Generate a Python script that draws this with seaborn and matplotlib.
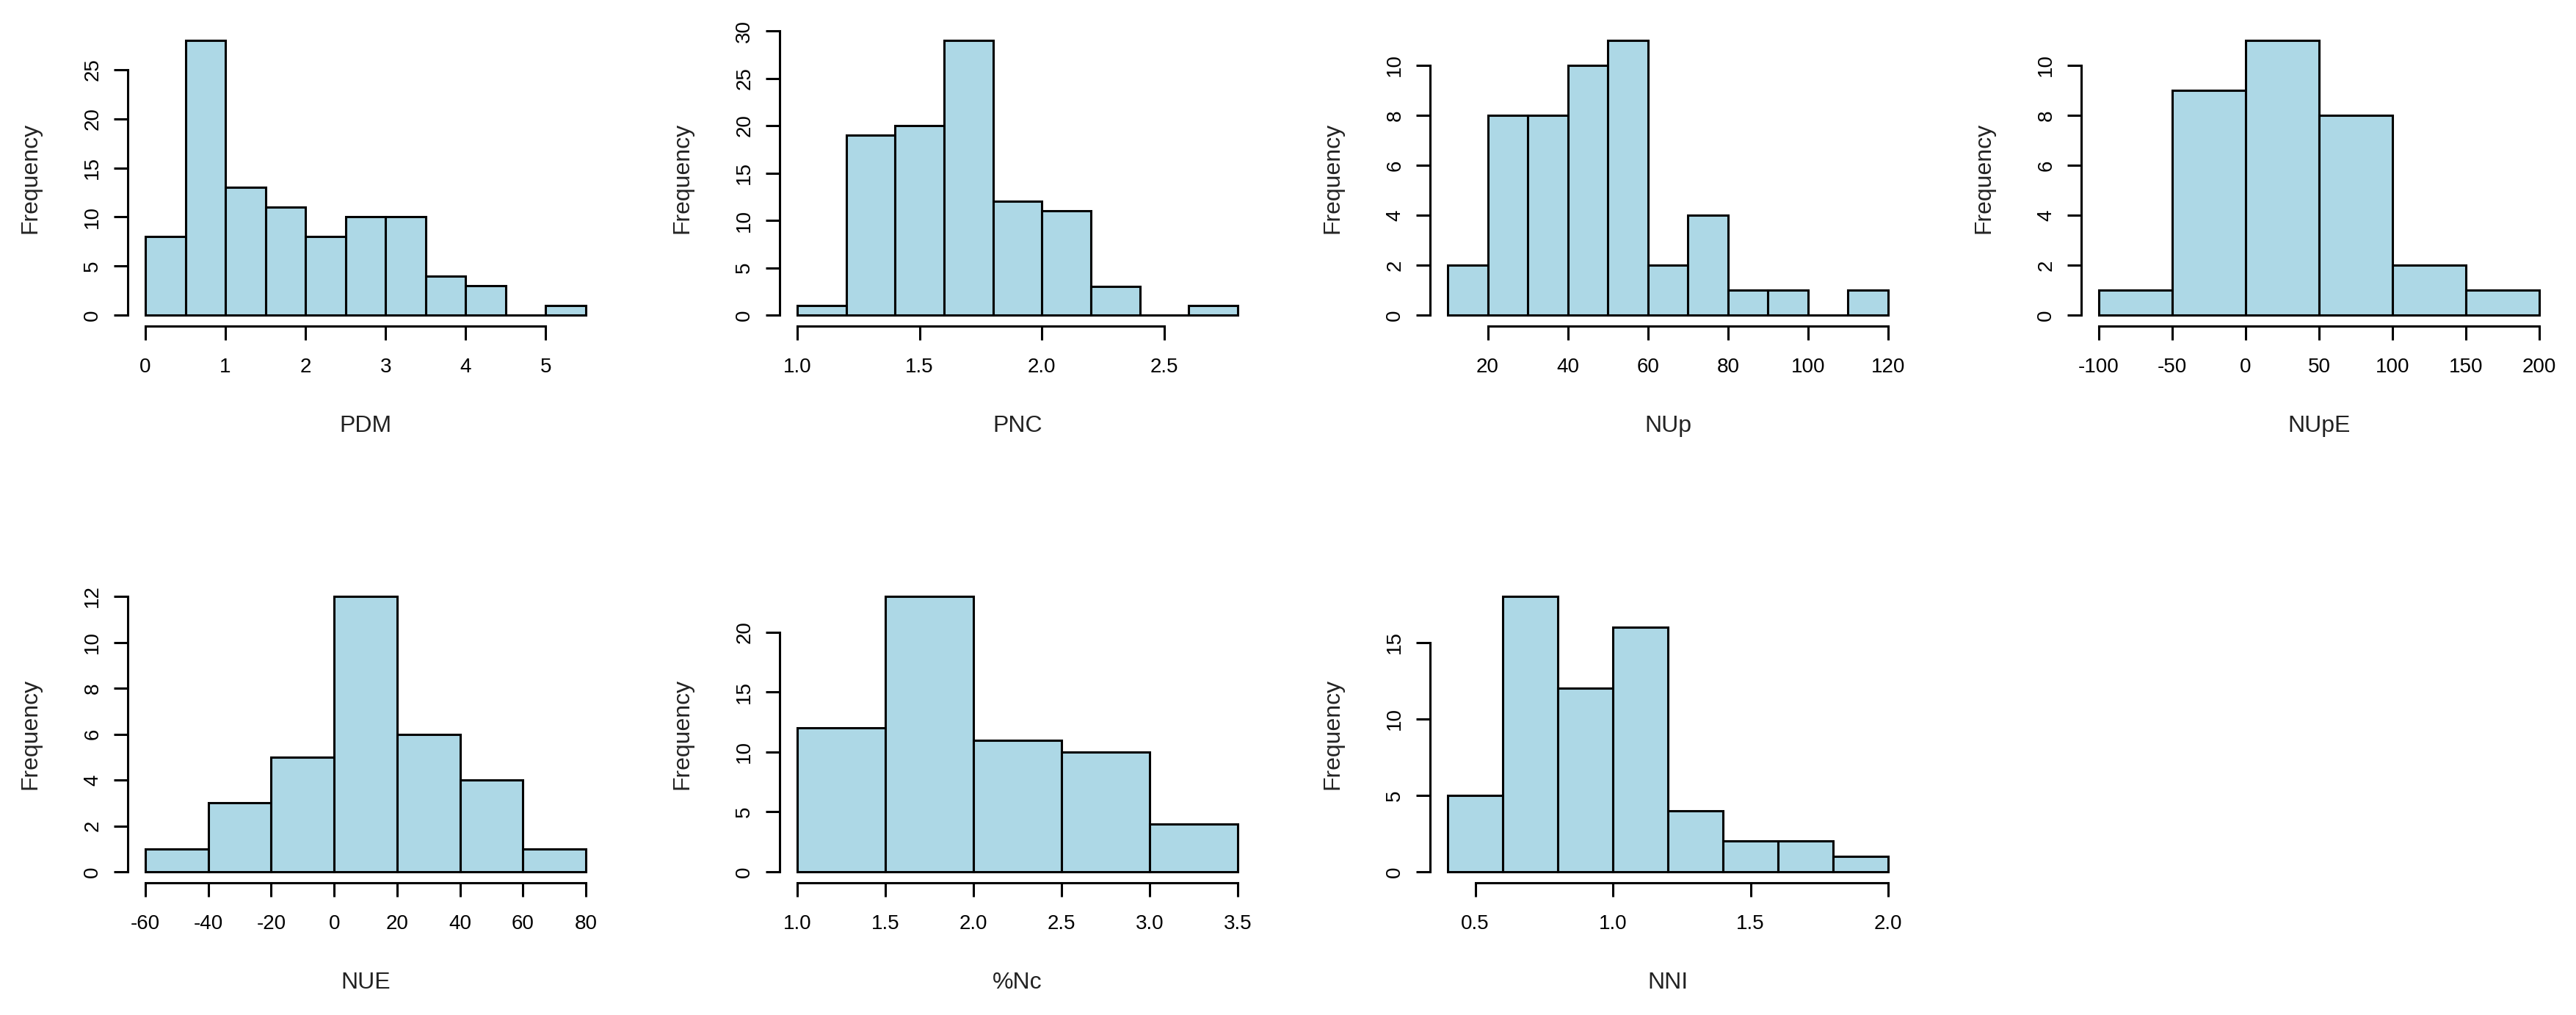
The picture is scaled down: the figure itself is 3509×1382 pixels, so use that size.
import numpy as np
import pandas as pd
import matplotlib
matplotlib.use("Agg")
import matplotlib.pyplot as plt
import seaborn as sns

# ---------------- data ----------------
names = ["PDM", "PNC", "NUp", "NUpE", "NUE", "%Nc", "NNI"]

pdm_edges = [0.0, 0.5, 1.0, 1.5, 2.0, 2.5, 3.0, 3.5, 4.0, 4.5, 5.0, 5.5]
pdm_counts = [8, 28, 13, 11, 8, 10, 10, 4, 3, 0, 1]

pnc_edges = [1.0, 1.2, 1.4, 1.6, 1.8, 2.0, 2.2, 2.4, 2.6, 2.8]
pnc_counts = [1, 19, 20, 29, 12, 11, 3, 0, 1]

nup_edges = [10, 20, 30, 40, 50, 60, 70, 80, 90, 100, 110, 120]
nup_counts = [2, 8, 8, 10, 11, 2, 4, 1, 1, 0, 1]

nupe_edges = [-100, -50, 0, 50, 100, 150, 200]
nupe_counts = [1, 9, 11, 8, 2, 1]

nue_edges = [-60, -40, -20, 0, 20, 40, 60, 80]
nue_counts = [1, 3, 5, 12, 6, 4, 1]

nc_edges = [1.0, 1.5, 2.0, 2.5, 3.0, 3.5]
nc_counts = [12, 23, 11, 10, 4]

nni_edges = [0.4, 0.6, 0.8, 1.0, 1.2, 1.4, 1.6, 1.8, 2.0]
nni_counts = [5, 18, 12, 16, 4, 2, 2, 1]

# tick values / labels
pdm_xt = ["0", "1", "2", "3", "4", "5"]
pnc_xt = ["1.0", "1.5", "2.0", "2.5"]
nup_xt = ["20", "40", "60", "80", "100", "120"]
nupe_xt = ["-100", "-50", "0", "50", "100", "150", "200"]
nue_xt = ["-60", "-40", "-20", "0", "20", "40", "60", "80"]
nc_xt = ["1.0", "1.5", "2.0", "2.5", "3.0", "3.5"]
nni_xt = ["0.5", "1.0", "1.5", "2.0"]

pdm_yt = [0, 5, 10, 15, 20, 25]
pnc_yt = [0, 5, 10, 15, 20, 25, 30]
nup_yt = [0, 2, 4, 6, 8, 10]
nupe_yt = [0, 2, 4, 6, 8, 10]
nue_yt = [0, 2, 4, 6, 8, 10, 12]
nc_yt = [0, 5, 10, 15, 20]
nni_yt = [0, 5, 10, 15]

all_edges = [pdm_edges, pnc_edges, nup_edges, nupe_edges, nue_edges, nc_edges, nni_edges]
all_counts = [pdm_counts, pnc_counts, nup_counts, nupe_counts, nue_counts, nc_counts, nni_counts]
all_xt = [pdm_xt, pnc_xt, nup_xt, nupe_xt, nue_xt, nc_xt, nni_xt]
all_yt = [pdm_yt, pnc_yt, nup_yt, nupe_yt, nue_yt, nc_yt, nni_yt]

# ---------------- style ----------------
sns.set_theme(style="white")
plt.rcParams["font.family"] = ["Liberation Sans", "DejaVu Sans"]

W, H = 3509, 1382
fig = plt.figure(figsize=(W / 100, H / 100), dpi=100)

lefts_px = [174, 1062, 1948, 2835]
width_px = 648
rows = [(40, 444), (797, 1202)]  # (top, bottom) in pixels

LW = 2.2
for i, name in enumerate(names):
    r, c = divmod(i, 4)
    top, bot = rows[r]
    ax = fig.add_axes([lefts_px[c] / W, (H - bot) / H, width_px / W, (bot - top) / H])

    edges = [float(e) for e in all_edges[i]]
    counts = [float(v) for v in all_counts[i]]
    centers = [(a + b) / 2 for a, b in zip(edges[:-1], edges[1:])]
    df = pd.DataFrame({"x": centers, "w": counts})
    sns.histplot(data=df, x="x", weights="w", bins=edges, stat="count", ax=ax,
                 color="#ADD8E6", edgecolor="black", linewidth=LW, alpha=1.0)

    rng = edges[-1] - edges[0]
    ax.set_xlim(edges[0] - 0.04 * rng, edges[-1] + 0.04 * rng)
    ymax = max(counts)
    ax.set_ylim(-0.04 * ymax, 1.04 * ymax)

    xt_labels = all_xt[i]
    xt_vals = [float(s) for s in xt_labels]
    yt = all_yt[i]
    ax.set_xticks(xt_vals)
    ax.set_xticklabels(xt_labels, fontsize=20, color="black")
    ax.set_yticks(yt)
    ax.set_yticklabels([str(v) for v in yt], fontsize=20, rotation=90,
                       va="center", ha="right", color="black")

    for s in ["top", "right"]:
        ax.spines[s].set_visible(False)
    for s in ["left", "bottom"]:
        ax.spines[s].set_visible(True)
        ax.spines[s].set_color("black")
        ax.spines[s].set_linewidth(LW)
    ax.spines["left"].set_bounds(yt[0], yt[-1])
    ax.spines["bottom"].set_bounds(xt_vals[0], xt_vals[-1])

    ax.tick_params(axis="both", which="major", direction="out", length=14,
                   width=LW, color="black", left=True, bottom=True)
    ax.tick_params(axis="x", pad=17)
    ax.tick_params(axis="y", pad=11)

    ax.set_xlabel(name, fontsize=23, color="#222222")
    ax.set_ylabel("Frequency", fontsize=23, color="#222222")
    ax.xaxis.set_label_coords(0.5, -0.30)
    ax.yaxis.set_label_coords(-0.182, 0.5)
    ax.grid(False)
    ax.set_facecolor("white")

fig.savefig("out.png", dpi=100, facecolor="white")
